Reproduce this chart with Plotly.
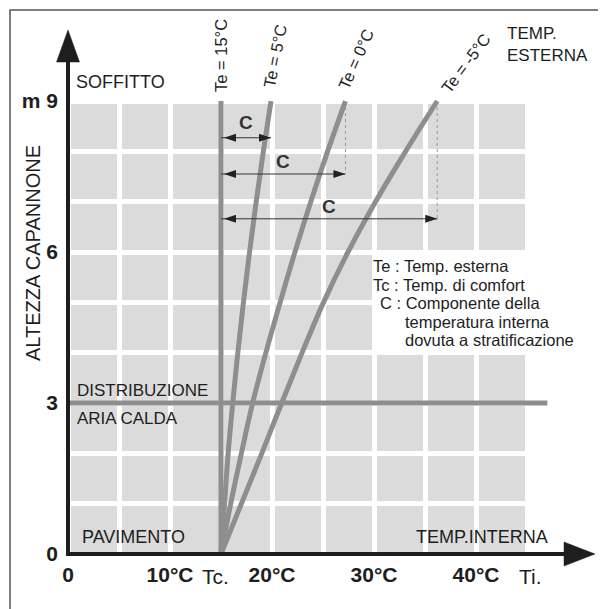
import plotly.graph_objects as go

# ---------------- data ----------------
heights = [0, 1, 2, 3, 4, 5, 6, 7, 8, 9]
ti_te15 = [15.0, 15.0, 15.0, 15.0, 15.0, 15.0, 15.0, 15.0, 15.0, 15.0]
ti_te5 = [15.0, 15.35, 15.7, 16.15, 16.65, 17.2, 17.8, 18.45, 19.15, 19.9]
ti_te0 = [15.0, 15.95, 17.0, 18.1, 19.4, 20.8, 22.25, 23.8, 25.45, 27.2]
ti_tem5 = [15.0, 17.0, 19.0, 20.95, 22.95, 25.05, 27.45, 30.15, 33.1, 36.2]
curve_names = ["Te = 15°C", "Te = 5°C", "Te = 0°C", "Te = -5°C"]

tc_value = 15.0                       # comfort temperature
c_arrow_heights = [8.27, 7.55, 6.66]  # heights of the "C" arrows (m)
distribution_height = 3.0
distribution_end = 47.0
grid_t_max = 45
grid_h_max = 9

x_tickvals = [0, 5, 10, 15, 20, 25, 30, 35, 40, 45]
x_ticktext = ["0", "", "10°C", "", "20°C", "", "30°C", "", "40°C", ""]
y_tickvals = [0, 1, 2, 3, 4, 5, 6, 7, 8, 9]
y_ticktext = ["0", "", "", "3", "", "", "6", "", "", "m 9"]

legend_lines = ["Te : Temp. esterna", "Tc : Temp. di comfort", "C : Componente della",
                "temperatura interna", "dovuta a stratificazione"]

# ---------------- layout geometry (window pixels) ----------------
WIN_W, WIN_H = 606, 609
OFF = 8                    # default body margin of the html page
W, H = WIN_W - OFF, WIN_H - OFF
X0PX, Y0PX = 68, 554       # window pixel of (0 °C, 0 m)
PX_T = 10.2                # px per °C
PX_M = 50.33               # px per m


def tx(px):
    return (px - X0PX) / PX_T


def hy(py):
    return (Y0PX - py) / PX_M


X_RANGE = [tx(OFF), tx(WIN_W)]
Y_RANGE = [hy(WIN_H), hy(OFF)]

FONT = "Liberation Sans, Arial, Helvetica, sans-serif"
CURVE_COL = "#8e8e8e"
GRAY = "#dbdbdb"
DARK = "#1e1e1e"

fig = go.Figure()

# outer frame (left and top edges)
fig.add_trace(go.Scatter(x=[tx(10), tx(10), tx(WIN_W + 5)], y=[hy(WIN_H + 5), hy(10), hy(10)],
                         mode="lines", line=dict(color="#555555", width=1.5),
                         hoverinfo="skip", showlegend=False))

curves = [ti_te15, ti_te5, ti_te0, ti_tem5]
for name, temps in zip(curve_names, curves):
    fig.add_trace(go.Scatter(x=temps, y=heights, mode="lines", name=name,
                             line=dict(color=CURVE_COL, width=5, shape="spline", smoothing=1.0),
                             hoverinfo="skip", showlegend=False))

# distribution line at 3 m
fig.add_trace(go.Scatter(x=[0, distribution_end], y=[distribution_height, distribution_height],
                         mode="lines", line=dict(color=CURVE_COL, width=5),
                         hoverinfo="skip", showlegend=False))

# axes lines
y_tip = hy(30)
x_tip = tx(595)
fig.add_trace(go.Scatter(x=[0, 0], y=[hy(556), hy(58)], mode="lines",
                         line=dict(color=DARK, width=4), hoverinfo="skip", showlegend=False))
fig.add_trace(go.Scatter(x=[tx(66), tx(570)], y=[0, 0], mode="lines",
                         line=dict(color=DARK, width=4), hoverinfo="skip", showlegend=False))
# arrowheads (sizes in pixels converted to data units)
hw, hl = 11.5 / PX_T, 32 / PX_M
fig.add_trace(go.Scatter(x=[0, -hw, hw, 0], y=[y_tip, y_tip - hl, y_tip - hl, y_tip], mode="lines",
                         fill="toself", fillcolor=DARK, line=dict(color=DARK, width=0.5),
                         hoverinfo="skip", showlegend=False))
hl2, hw2 = 31 / PX_T, 12 / PX_M
fig.add_trace(go.Scatter(x=[x_tip, x_tip - hl2, x_tip - hl2, x_tip], y=[0, hw2, -hw2, 0], mode="lines",
                         fill="toself", fillcolor=DARK, line=dict(color=DARK, width=0.5),
                         hoverinfo="skip", showlegend=False))

shapes = []
# gray grid background
shapes.append(dict(type="rect", xref="x", yref="y", x0=0, x1=grid_t_max, y0=0, y1=grid_h_max,
                   fillcolor=GRAY, line=dict(width=0), layer="below"))
# white area behind the legend text
shapes.append(dict(type="rect", xref="x", yref="y", x0=30, x1=grid_t_max, y0=4, y1=6,
                   fillcolor="white", line=dict(width=0), layer="below"))

# C arrows + dashed guide lines
tops = [ti_te5[-1], ti_te0[-1], ti_tem5[-1]]
c_label_shift = [15, 13, 12]
annotations = []
for i, (h, t_top) in enumerate(zip(c_arrow_heights, tops)):
    shapes.append(dict(type="line", xref="x", yref="y", x0=tc_value, x1=t_top, y0=h, y1=h,
                       line=dict(color="#333333", width=1)))
    shapes.append(dict(type="path", xref="x", yref="y", xsizemode="pixel", ysizemode="pixel",
                       xanchor=tc_value, yanchor=h, path="M3,0 L15,4 L15,-4 Z",
                       fillcolor="#222222", line=dict(width=0)))
    shapes.append(dict(type="path", xref="x", yref="y", xsizemode="pixel", ysizemode="pixel",
                       xanchor=t_top, yanchor=h, path="M0,0 L-12,4 L-12,-4 Z",
                       fillcolor="#222222", line=dict(width=0)))
    if i > 0:
        shapes.append(dict(type="line", xref="x", yref="y", x0=t_top, x1=t_top, y0=grid_h_max, y1=h,
                           line=dict(color="#9a9a9a", width=1, dash="3px,3px")))
    annotations.append(dict(x=(tc_value + t_top) / 2, y=h, xref="x", yref="y", text="<b>C</b>",
                            showarrow=False, yshift=c_label_shift[i],
                            font=dict(family=FONT, size=19, color="#333333")))

# curve labels
curve_label_px = [(221, 56, -90), (275, 56, -79), (356, 59, -66), (466, 63, -53)]
for name, (px, py, ang) in zip(curve_names, curve_label_px):
    annotations.append(dict(x=tx(px), y=hy(py), xref="x", yref="y", text=name, showarrow=False,
                            textangle=ang, font=dict(family=FONT, size=16.5, color=DARK)))


def txt(text, px, py, xanchor="left", size=18, bold=False, angle=0, align="left"):
    if bold:
        text = "<b>" + text + "</b>"
    annotations.append(dict(x=tx(px), y=hy(py), xref="x", yref="y", text=text, showarrow=False,
                            xanchor=xanchor, yanchor="middle", textangle=angle, align=align,
                            font=dict(family=FONT, size=size, color=DARK)))


txt("SOFFITTO", 74, 82)
txt("TEMP.<br>ESTERNA", 505, 44, size=17)
txt("DISTRIBUZIONE", 75, 390, size=17)
txt("ARIA CALDA", 75, 418, size=17)
txt("PAVIMENTO", 80, 537)
txt("TEMP.INTERNA", 550, 537, xanchor="right")
txt("ALTEZZA CAPANNONE", 33, 253, xanchor="center", size=20, angle=-90)
txt("Tc.", 215, 576, xanchor="center", size=21)
txt("Ti.", 530, 576, xanchor="center", size=21)

legend_px = [(371, 266), (371, 284.5), (378, 303), (403, 321.5), (403, 340)]
for line, (px, py) in zip(legend_lines, legend_px):
    txt(line, px, py, size=16.5)

fig.update_layout(
    width=W, height=H,
    margin=dict(l=0, r=0, t=0, b=0, pad=0),
    paper_bgcolor="white", plot_bgcolor="white",
    shapes=shapes, annotations=annotations,
    xaxis=dict(range=X_RANGE, tickvals=x_tickvals, domain=[0, 1],
               ticktext=["<b>%s</b>" % t if t else "" for t in x_ticktext],
               anchor="free", position=(WIN_H - Y0PX) / H,
               showgrid=True, gridcolor="white", gridwidth=4.5, zeroline=False, showline=False,
               ticks="", ticklabelstandoff=6, automargin=False,
               tickfont=dict(family=FONT, size=21, color=DARK), fixedrange=True),
    yaxis=dict(range=Y_RANGE, tickvals=y_tickvals, domain=[0, 1],
               ticktext=["<b>%s</b>" % t if t else "" for t in y_ticktext],
               anchor="free", position=(X0PX - OFF) / W,
               showgrid=True, gridcolor="white", gridwidth=4.5, zeroline=False, showline=False,
               ticks="", ticklabelstandoff=10, automargin=False,
               tickfont=dict(family=FONT, size=21, color=DARK), fixedrange=True),
    showlegend=False,
)

fig.write_html("out.html")
